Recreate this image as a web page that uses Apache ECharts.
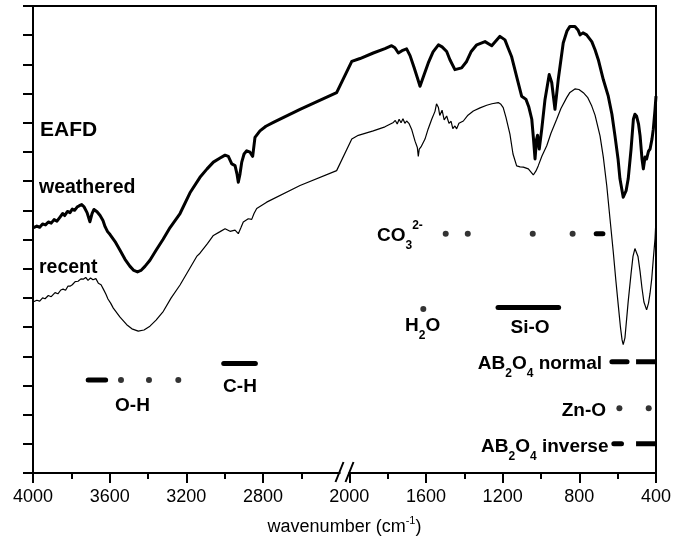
<!DOCTYPE html>
<html><head><meta charset="utf-8">
<script src="https://cdn.jsdelivr.net/npm/echarts@6/dist/echarts.min.js"></script>
<style>html,body{margin:0;padding:0;background:#fff}#c{width:688px;height:541px}</style>
</head><body><div id="c"></div>
<script>
// ---- data (wavenumber in cm-1, relative transmittance a.u.) ----
const weatheredWn = [4000,3980,3965,3950,3935,3920,3905,3890,3875,3860,3845,3835,3820,3807,3795,3783,3770,3758,3746,3734,3718,3703,3692,3682,3666,3650,3635,3624,3611,3598,3572,3546,3520,3494,3474,3455,3437,3416,3390,3358,3322,3285,3233,3181,3129,3092,3059,3024,2998,2981,2963,2946,2936,2929,2920,2911,2899,2885,2868,2854,2842,2816,2785,2746,2607,2416,1987,1944,1875,1814,1779,1762,1744,1725,1701,1683,1662,1642,1631,1615,1588,1563,1535,1516,1492,1475,1449,1414,1388,1365,1335,1292,1257,1214,1188,1172,1153,1127,1101,1078,1063,1048,1039,1031,1023,1018,1009,996,979,957,944,927,910,884,864,849,823,807,796,781,762,735,718,701,675,649,630,614,598,588,571,556,545,530,518,510,501,491,483,473,466,457,449,439,431,421,414,405,400];
const weatheredT = [84.0,84.6,84.2,85.3,85.0,86.0,85.6,86.8,86.3,87.6,88.9,88.2,89.6,89.2,90.4,90.0,91.1,91.6,92.0,91.2,89.2,86.1,88.9,90.3,89.5,88.2,86.5,84.4,82.7,81.7,79.3,76.3,73.2,70.8,69.4,68.9,69.4,70.8,72.9,76.3,80.0,84.1,88.9,96.0,101.3,104.2,106.5,107.9,108.9,108.5,105.9,105.3,102.5,99.6,102.5,106.5,109.3,110.4,109.9,108.5,115.0,117.2,118.8,120.1,124.6,130.3,141.0,142.0,143.9,145.4,146.4,145.7,143.9,144.7,145.3,143.0,138.9,134.8,132.5,135.5,140.5,144.3,146.7,146.0,144.4,141.6,138.2,138.8,141.0,144.3,146.7,147.8,146.4,149.6,148.4,145.7,142.6,135.8,129.1,128.0,125.3,121.2,114.4,107.6,114.4,115.7,111.0,117.8,128.0,136.5,133.8,124.6,134.8,147.3,151.5,153.0,153.0,151.8,150.1,150.8,150.1,147.8,145.0,141.6,134.8,129.1,122.9,115.5,107.6,100.8,94.5,96.7,100.8,111.0,121.2,122.9,122.2,119.5,115.5,107.6,104.2,108.3,107.6,110.3,111.0,114.4,117.8,124.6,129.1];
const recentWn = [4000,3980,3965,3950,3937,3920,3905,3885,3870,3855,3843,3830,3818,3807,3795,3780,3765,3750,3738,3725,3713,3700,3687,3672,3659,3645,3633,3620,3609,3595,3581,3546,3511,3484,3451,3421,3390,3358,3320,3280,3233,3191,3146,3129,3090,3059,3024,2998,2972,2946,2929,2915,2903,2877,2859,2847,2833,2781,2607,2416,1987,1953,1875,1814,1770,1760,1750,1740,1730,1720,1710,1701,1689,1675,1657,1645,1640,1635,1626,1605,1589,1570,1560,1553,1545,1535,1528,1516,1505,1492,1480,1469,1460,1449,1440,1428,1405,1381,1353,1318,1283,1256,1223,1209,1197,1183,1162,1146,1127,1109,1092,1066,1040,1026,1014,995,970,948,918,896,866,849,823,802,779,757,735,718,703,692,675,657,640,623,609,597,585,577,571,562,545,530,520,510,502,494,483,473,463,449,439,431,422,413,405,400];
const recentT = [58.6,59.2,58.9,60.0,59.7,60.8,60.4,61.8,61.4,62.7,63.0,62.6,64.0,64.0,64.5,65.6,65.7,66.5,66.4,67.0,66.0,66.8,66.2,66.6,65.0,64.5,63.0,61.3,59.6,58.2,56.5,53.4,50.8,49.4,48.6,49.0,50.3,52.4,55.4,59.9,64.4,69.1,74.2,75.3,78.6,81.4,82.7,83.7,82.8,83.2,82.0,84.1,86.0,87.1,86.9,88.9,90.6,92.8,98.5,103.6,114.4,115.7,117.2,118.6,120.1,120.8,119.6,121.2,120.0,121.4,119.8,120.6,119.8,117.8,113.7,111.5,108.5,111.0,111.7,114.4,117.8,121.2,121.5,123.9,126.5,125.2,122.5,124.3,121.0,122.3,119.8,120.5,118.0,118.9,117.9,119.8,120.6,122.6,124.0,125.1,126.0,126.5,126.9,126.3,125.2,121.9,116.1,109.3,105.2,104.9,104.8,104.2,102.1,103.5,105.3,108.6,112.1,116.4,121.2,124.9,128.6,130.4,131.6,131.4,130.3,128.7,125.7,122.6,118.5,115.5,108.3,98.5,87.1,75.8,65.7,57.6,49.7,45.6,44.0,46.3,58.8,68.4,74.2,76.9,76.6,74.2,69.0,63.3,58.6,55.9,58.2,61.6,66.7,74.2,80.3,87.1];

// tick labels (wavenumber)
const majorTickWn = [400,800,1200,1600,2000,2800,3200,3600,4000];
const minorTickWn = [600,1000,1400,1800,2600,3000,3400,3800];

// band assignment markers: [from, to] ranges (bars) and single positions (dots), with level
const ohLevel = 31.9,  ohBars = [[3712,3621]], ohDots = [3541,3395,3242];
const chLevel = 37.5,  chBars = [[3005,2840]], chDots = [];
const co3Level = 82.0, co3Bars = [[712,677]], co3Dots = [1497,1382,1043,835];
const h2oLevel = 56.2, h2oBars = [], h2oDots = [1614];
const sioLevel = 56.7, sioBars = [[1224,908]], sioDots = [];
const normLevel = 38.1, normBars = [[630,551],[504,400]], normDots = [];
const znoLevel = 22.2, znoBars = [], znoDots = [591,438];
const invLevel = 10.0, invBars = [[620,580],[504,400]], invDots = [];

// ---- broken axis mapping: 4000-2400 | 2000-400 ----
const GAP = 50;
function toD(w){ if (w <= 2000) return w; if (w >= 2400) return w - 400 + GAP; return 2000 + (w - 2000) * GAP / 400; }
function fromD(d){ return d <= 2000 ? d : Math.round(d + 400 - GAP); }

const chart = echarts.init(document.getElementById('c'), null, {renderer: 'canvas'});
const FONT = '"Liberation Sans", Arial, Helvetica, sans-serif';

function zipLine(wn, t){ return wn.map((w,i)=>[toD(w), t[i]]); }
const series = [
  {type:'line', name:'weathered', data: zipLine(weatheredWn, weatheredT), showSymbol:false, symbol:'none',
   lineStyle:{color:'#000', width:3, join:'round'}, z:3, animation:false},
  {type:'line', name:'recent', data: zipLine(recentWn, recentT), showSymbol:false, symbol:'none',
   lineStyle:{color:'#000', width:1.2}, z:3, animation:false}
];
const bands = [[ohLevel,ohBars,ohDots],[chLevel,chBars,chDots],[co3Level,co3Bars,co3Dots],[h2oLevel,h2oBars,h2oDots],
  [sioLevel,sioBars,sioDots],[normLevel,normBars,normDots],[znoLevel,znoBars,znoDots],[invLevel,invBars,invDots]];
bands.forEach(([lvl, bars, dots]) => {
  bars.forEach(b => series.push({type:'line', data:[[toD(b[0]),lvl],[toD(b[1]),lvl]], symbol:'none',
    lineStyle:{color:'#000', width:5, cap: b[1] <= 400 ? 'butt' : 'round'}, z:4, animation:false}));
  if (dots.length) series.push({type:'scatter', data: dots.map(w=>[toD(w),lvl]), symbol:'circle', symbolSize:6,
    itemStyle:{color:'#000'}, z:4, animation:false});
});

const baseX = {type:'value', inverse:true, min:toD(400), max:toD(4000), splitLine:{show:false}};
chart.setOption({
  animation:false,
  backgroundColor:'#fff',
  grid:{left:33, right:32, top:6, bottom:65, show:true, borderColor:'#000', borderWidth:2, backgroundColor:'transparent'},
  xAxis:[
    Object.assign({}, baseX, {
      position:'bottom',
      axisLine:{show:true, onZero:false, lineStyle:{color:'#000', width:2}},
      axisTick:{show:true, inside:false, length:10, customValues: majorTickWn.map(toD), lineStyle:{color:'#000', width:2}},
      axisLabel:{show:true, customValues: majorTickWn.map(toD), formatter: v => String(fromD(v)), color:'#000', fontSize:18, fontFamily:FONT, margin:15},
      name:'{t|wavenumber (cm}{s|-1}{t|)}', nameLocation:'middle', nameGap:42,
      nameTextStyle:{color:'#000', fontFamily:FONT, rich:{t:{fontSize:18, fontFamily:FONT, color:'#000', lineHeight:24}, s:{fontSize:11, fontFamily:FONT, color:'#000', verticalAlign:'top', lineHeight:12}}}
    }),
    Object.assign({}, baseX, {
      position:'bottom',
      axisLine:{show:false, onZero:false},
      axisTick:{show:true, inside:false, length:6, customValues: minorTickWn.map(toD), lineStyle:{color:'#000', width:2}},
      axisLabel:{show:false}
    })
  ],
  yAxis:[{type:'value', min:0, max:160, interval:10, position:'left',
    axisLine:{show:true, onZero:false, lineStyle:{color:'#000', width:2}},
    axisTick:{show:true, inside:false, length:10, lineStyle:{color:'#000', width:2}},
    axisLabel:{show:false}, splitLine:{show:false}}],
  series: series
});

// ---- annotations ----
function rt(fs){ return {fontSize:fs, fontWeight:'bold', fontFamily:FONT, fill:'#000', color:'#000'}; }
const rich = {
  m: Object.assign(rt(19), {lineHeight:32}),
  s: Object.assign(rt(12), {verticalAlign:'bottom', lineHeight:12}),
  p: Object.assign(rt(12), {verticalAlign:'top', lineHeight:14}),
  s3: Object.assign(rt(12), {verticalAlign:'bottom', lineHeight:8})
};
const notes = [
  {t:'EAFD', x:40, y:130.5, a:'left', fs:21},
  {t:'weathered', x:39, y:188, a:'left', fs:19.5},
  {t:'recent', x:39, y:268, a:'left', fs:19.5},
  {t:'O-H', x:132.5, y:405.5, a:'center'},
  {t:'C-H', x:240, y:386.5, a:'center'},
  {t:'{m|CO}{s3|3}{p|2-}', x:377, y:235.5, a:'left', r:true},
  {t:'{m|H}{s|2}{m|O}', x:405, y:325.5, a:'left', r:true},
  {t:'Si-O', x:530, y:328, a:'center'},
  {t:'{m|AB}{s|2}{m|O}{s|4}{m| normal}', x:602, y:363.7, a:'right', r:true},
  {t:'Zn-O', x:606, y:411, a:'right'},
  {t:'{m|AB}{s|2}{m|O}{s|4}{m| inverse}', x:608.5, y:447, a:'right', r:true}
];
const graphics = notes.map(n => ({
  type:'text', z:50, silent:true,
  style: n.r ? {text:n.t, x:n.x, y:n.y, textAlign:n.a, textVerticalAlign:'middle', verticalAlign:'middle', align:n.a, rich:rich, fill:'#000'}
             : {text:n.t, x:n.x, y:n.y, textAlign:n.a, textVerticalAlign:'middle', verticalAlign:'middle', align:n.a, font:'bold '+(n.fs||19)+'px '+FONT, fill:'#000'}
}));

// axis break marks
const pb = chart.convertToPixel({xAxisIndex:0, yAxisIndex:0}, [toD(2200), 0]);
const bx = pb[0], by = pb[1];
graphics.push({type:'rect', z:60, silent:true, shape:{x:bx-4, y:by-2, width:8, height:4}, style:{fill:'#fff'}});
graphics.push({type:'line', z:61, silent:true, shape:{x1:bx-9, y1:by+9, x2:bx-1, y2:by-11}, style:{stroke:'#000', lineWidth:2}});
graphics.push({type:'line', z:61, silent:true, shape:{x1:bx+1, y1:by+9, x2:bx+9, y2:by-11}, style:{stroke:'#000', lineWidth:2}});
chart.setOption({graphic: graphics});
</script>
</body></html>
